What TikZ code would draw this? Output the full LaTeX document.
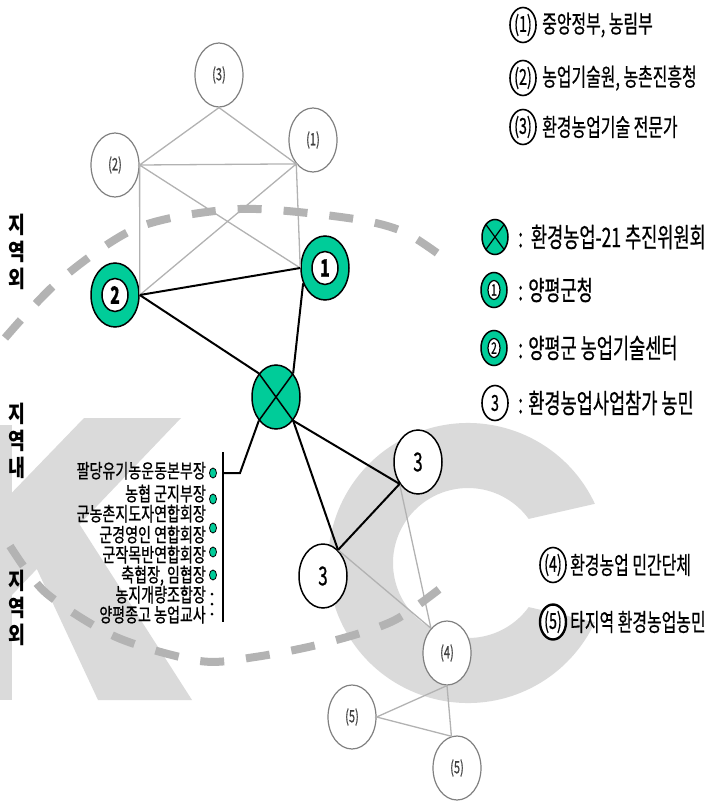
\documentclass[tikz,border=0pt]{standalone}
\usepackage{fontspec}
\newfontfamily\kr[FakeStretch=0.65, FakeBold=0.6]{Noto Sans CJK KR}
\newfontfamily\krlist[FakeStretch=0.72, FakeBold=0.8]{Noto Sans CJK KR}
\newfontfamily\krside[FakeStretch=0.8]{Noto Sans CJK KR}
\usetikzlibrary{shapes.geometric}
\definecolor{kcgreen}{HTML}{00CC99}
\definecolor{markgray}{HTML}{DADADA}
\definecolor{dashgray}{HTML}{B3B3B3}

\begin{document}
\begin{tikzpicture}[x=1pt, y=-1pt,
  outer/.style={ellipse, draw=black!50, line width=1.2pt, fill=white, inner sep=0pt,
    minimum width=48pt, minimum height=64pt, text=black!75, font=\kr\fontsize{17}{17}\selectfont},
  ring/.style={ellipse, draw, line width=1.5pt, fill=kcgreen, minimum width=48pt, minimum height=64pt},
  ringin/.style={ellipse, draw, line width=1.5pt, fill=white, inner sep=0pt,
    minimum width=26pt, minimum height=33pt, font=\kr\bfseries\fontsize{24}{24}\selectfont},
  hub/.style={ellipse, draw, line width=1.5pt, fill=kcgreen, minimum width=48pt, minimum height=64pt},
  farmer/.style={ellipse, draw, line width=1.5pt, fill=white, inner sep=0pt,
    minimum width=48pt, minimum height=64pt, font=\kr\fontsize{26}{26}\selectfont},
  keybox/.style={ellipse, draw, line width=1.6pt, fill=white, inner sep=0pt,
    minimum width=26pt, minimum height=35pt, font=\kr\fontsize{22}{22}\selectfont},
  keyring/.style={ellipse, draw, line width=1.5pt, fill=kcgreen, minimum width=26pt, minimum height=35pt},
  keyringin/.style={ellipse, draw, line width=1.2pt, fill=white, inner sep=0pt,
    minimum width=12pt, minimum height=19pt, font=\kr\fontsize{16}{16}\selectfont},
  keytext/.style={anchor=west, inner sep=0pt, font=\kr\fontsize{24.5}{25}\selectfont},
  midtext/.style={anchor=west, inner sep=0pt, font=\kr\fontsize{27}{27}\selectfont},
  member/.style={anchor=east, inner sep=0pt, text height=13pt, text depth=3pt,
    font=\krlist\fontsize{19.5}{20}\selectfont},
  memberdot/.style={ellipse, draw, line width=0.8pt, fill=kcgreen, inner sep=0pt,
    minimum width=7pt, minimum height=10pt},
  tick/.style={circle, fill, inner sep=0pt, minimum size=3pt},
  side/.style={align=center, inner sep=0pt, font=\krside\bfseries\fontsize{23}{27}\selectfont},
  soft/.style={draw=black!30, line width=1.3pt},
  hard/.style={draw=black, line width=2pt}]
\useasboundingbox (0,0) rectangle (718,803);

% KC watermark
\fill[markgray] (0,425) rectangle (12,700);
\fill[markgray] (84,418) -- (181,418) -- (12,595) -- (0,595) -- (0,505) -- cycle;
\fill[markgray] (35,565) -- (78,522) -- (192,700) -- (98,700) -- cycle;
\coordinate (cc) at (468,563);
\fill[markgray] (cc) ++(-25:140) arc[start angle=-25, end angle=-335, radius=140]
  -- ([shift={(36:75)}]cc) arc[start angle=36, end angle=324, radius=75] -- cycle;

% region boundary
\draw[dashgray, line width=8pt, dash pattern=on 24pt off 22pt]
  plot[smooth] coordinates {(5,338) (60,280) (139,227) (240,209) (348,218) (404,232) (452,264)};
\draw[dashgray, line width=8pt, dash pattern=on 24pt off 22pt]
  plot[smooth] coordinates {(10,546) (46,593) (116,637) (200,661) (255,657) (325,643) (395,620) (456,576)};

% nodes
\node[outer] (p3) at (219,75) {(3)};
\node[outer] (p1) at (313,140) {(1)};
\node[outer] (p2) at (115,165) {(2)};
\node[ring] (g2) at (115,295) {};
\node[ringin] (g2n) at (g2) {2};
\node[ring] (g1) at (325,268) {};
\node[ringin] (g1n) at (g1) {1};
\node[hub] (hub) at (276,397) {};
\draw[line width=1.5pt] (hub.54) -- (hub.-126) (hub.126) -- (hub.-54);
\node[farmer] (f1) at (418,462) {3};
\node[farmer] (f2) at (323,576) {3};
\node[outer] (o4) at (447,653) {(4)};
\node[outer] (o5a) at (352,717) {(5)};
\node[outer] (o5b) at (457,768) {(5)};

% outside links
\draw[soft] (p3.south) -- (p2.east) -- (p1.235) -- (p3.south);
\draw[soft] (p2.east) -- (g2.east) (p2.east) -- (g1.west);
\draw[soft] (p1.235) -- (g1.west) (p1.235) -- (g2.east);
\draw[soft] (f1.230) -- (o4.123) (f2.60) -- (o4.123);
\draw[soft] (o4.south) -- (o5a.east) -- (o5b.100) -- (o4.south);

% inside links
\draw[hard] (g2.east) -- (g1.west);
\draw[hard] (g2.east) -- (hub.126);
\draw[hard] (g1.215) -- (hub.54);
\draw[hard] (hub.-54) -- (f1.230);
\draw[hard] (hub.-54) -- (f2.60);
\draw[hard] (f2.60) -- (f1.230);

% members
\coordinate (btop) at (223,452);
\coordinate (bbot) at (223,622);
\coordinate (brk) at (223,473);
\coordinate (elbow) at (240,473);
\draw[hard] (hub.-126) -- (elbow) -- (brk);
\draw[hard] (btop) -- (bbot);
\foreach \y/\t in {473/팔당유기농운동본부장, 496/농협 군지부장, 516/군농촌지도자연합회장,
  537/군경영인 연합회장, 557/군작목반연합회장, 577/{축협장, 임협장},
  597/농지개량조합장, 617/양평종고 농업교사}
  \node[member] (m\y) at (206,\y) {\t};
\foreach \y in {473,499,528,552,575}
  \node[memberdot] (d\y) at (213,\y) {};
\foreach \y in {594,604,614}
  \node[tick] (k\y) at (212,\y) {};

% region labels
\node[side] (outA) at (17,252) {지\\역\\외};
\node[side] (inA) at (17,441) {지\\역\\내};
\node[side] (outB) at (17,608) {지\\역\\외};

% key
\node[keybox] (k1) at (523,25) {(1)};
\node[keytext] (k1t) at (542,25) {중앙정부, 농림부};
\node[keybox] (k2) at (523,78) {(2)};
\node[keytext] (k2t) at (542,78) {농업기술원, 농촌진흥청};
\node[keybox] (k3) at (523,127) {(3)};
\node[keytext] (k3t) at (542,127) {환경농업기술 전문가};
\node[keyring] (kx) at (495,237) {};
\draw[line width=1.2pt] (kx.54) -- (kx.-126) (kx.126) -- (kx.-54);
\node[midtext] (kxt) at (518,237) {:\ \ 환경농업-21 추진위원회};
\node[keyring] (kg1) at (494,290) {};
\node[keyringin] (kg1n) at (kg1) {1};
\node[midtext] (kg1t) at (518,290) {: 양평군청};
\node[keyring] (kg2) at (494,348) {};
\node[keyringin] (kg2n) at (kg2) {2};
\node[midtext] (kg2t) at (518,348) {: 양평군 농업기술센터};
\node[keybox] (kf) at (495,403) {3};
\node[midtext] (kft) at (518,403) {: 환경농업사업참가 농민};
\node[keybox] (k4) at (553,565) {(4)};
\node[keytext] (k4t) at (570,565) {환경농업 민간단체};
\node[keybox, line width=2.4pt] (k5) at (553,622) {(5)};
\node[keytext] (k5t) at (570,622) {타지역 환경농업농민};
\end{tikzpicture}
\end{document}
